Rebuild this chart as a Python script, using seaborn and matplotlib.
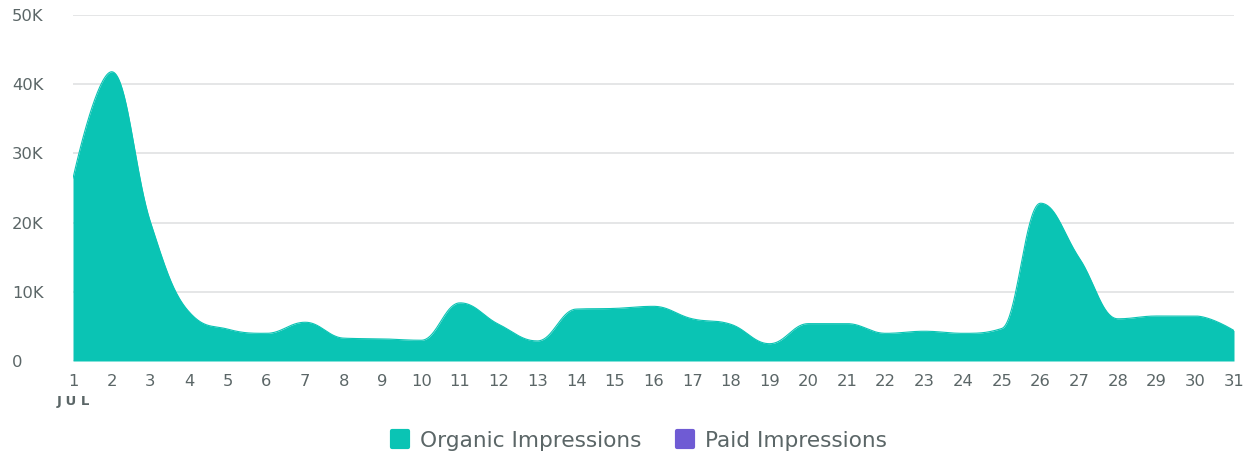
import numpy as np
import matplotlib
matplotlib.use("Agg")
import matplotlib.pyplot as plt
import seaborn as sns
from matplotlib.lines import Line2D
from matplotlib.markers import MarkerStyle

days = list(range(1, 32))
organic = [26.4, 41.8, 20.1, 7.1, 4.6, 4.0, 5.6, 3.3, 3.2, 3.0,
           8.4, 5.3, 2.9, 7.5, 7.6, 7.9, 6.1, 5.3, 2.5, 5.4,
           5.4, 4.0, 4.3, 4.0, 4.7, 22.8, 14.9, 6.1, 6.5, 6.5, 4.4]
organic = [v * 1000 for v in organic]
paid = [0] * 31
y_ticks = [0, 10000, 20000, 30000, 40000, 50000]
y_labels = ["0", "10K", "20K", "30K", "40K", "50K"]
series_names = ["Organic Impressions", "Paid Impressions"]
colors = ["#0ac4b4", "#6f5bd4"]
text_color = "#5b6667"


def spline_path(xs, ys, n=40):
    """Highcharts-style areaspline control points, sampled as cubic Beziers."""
    xs = np.asarray(xs, float)
    ys = np.asarray(ys, float)
    m = len(xs)
    lc = np.zeros((m, 2))
    rc = np.zeros((m, 2))
    sm, den = 1.5, 2.5
    for i in range(m):
        px, py = xs[i], ys[i]
        if 0 < i < m - 1:
            lx, ly = xs[i - 1], ys[i - 1]
            nx, ny = xs[i + 1], ys[i + 1]
            lcx = (sm * px + lx) / den
            lcy = (sm * py + ly) / den
            rcx = (sm * px + nx) / den
            rcy = (sm * py + ny) / den
            if rcx != lcx:
                corr = (rcy - lcy) * (rcx - px) / (rcx - lcx) + py - rcy
                lcy += corr
                rcy += corr
            if lcy > ly and lcy > py:
                lcy = max(ly, py)
                rcy = 2 * py - lcy
            elif lcy < ly and lcy < py:
                lcy = min(ly, py)
                rcy = 2 * py - lcy
            if rcy > ny and rcy > py:
                rcy = max(ny, py)
                lcy = 2 * py - rcy
            elif rcy < ny and rcy < py:
                rcy = min(ny, py)
                lcy = 2 * py - rcy
            lc[i] = (lcx, lcy)
            rc[i] = (rcx, rcy)
        else:
            lc[i] = (px, py)
            rc[i] = (px, py)
    out_x, out_y = [xs[0]], [ys[0]]
    t = np.linspace(0, 1, n)[1:]
    for i in range(1, m):
        p0 = np.array([xs[i - 1], ys[i - 1]])
        p1 = rc[i - 1]
        p2 = lc[i]
        p3 = np.array([xs[i], ys[i]])
        pts = ((1 - t) ** 3)[:, None] * p0 + (3 * (1 - t) ** 2 * t)[:, None] * p1 \
            + (3 * (1 - t) * t ** 2)[:, None] * p2 + (t ** 3)[:, None] * p3
        out_x.extend(pts[:, 0])
        out_y.extend(pts[:, 1])
    return np.array(out_x), np.array(out_y)


sns.set_theme(style="white")
plt.rcParams["font.family"] = ["DejaVu Sans"]

fig = plt.figure(figsize=(12.54, 4.57), dpi=100)
ax = fig.add_axes([73 / 1254, 96 / 457, (1234 - 73) / 1254, (361 - 15) / 457])

sx, sy = spline_path(days, organic)
ax.fill_between(sx, 0, sy, color=colors[0], linewidth=0, zorder=2)
sns.lineplot(x=sx, y=sy, ax=ax, color=colors[0], linewidth=0.8, zorder=3, sort=False)

ax.set_xlim(1, 31)
ax.set_ylim(0, 50000)
ax.set_yticks(y_ticks)
ax.set_yticklabels(y_labels)
ax.set_xticks(days)
ax.set_xticklabels([str(d) for d in days])
for yv in y_ticks:
    ax.axhline(yv, color="#e0e2e3", linewidth=1.2, zorder=1)
for s in ax.spines.values():
    s.set_visible(False)
ax.tick_params(axis="both", length=0, colors=text_color, labelsize=11.8)
ax.tick_params(axis="y", pad=44)
for lab in ax.get_yticklabels():
    lab.set_horizontalalignment("left")
ax.tick_params(axis="x", pad=9)
ax.set_xlabel("")
ax.set_ylabel("")

fig.text(57 / 1254, 1 - 401 / 457, "J U L", color=text_color, fontsize=9.5,
         fontweight="bold", ha="left", va="center")

handles = [Line2D([0], [0], marker=MarkerStyle("s", joinstyle="round"), linestyle="",
                  markersize=11, markeredgewidth=3,
                  markerfacecolor=c, markeredgecolor=c) for c in colors]
fig.legend(handles, series_names, loc="center", bbox_to_anchor=(638 / 1254, 1 - 441 / 457),
           ncol=2, frameon=False, fontsize=15.6, labelcolor=text_color,
           handletextpad=0.45, columnspacing=1.5, handlelength=1.0)

fig.savefig("out.png", dpi=100)
